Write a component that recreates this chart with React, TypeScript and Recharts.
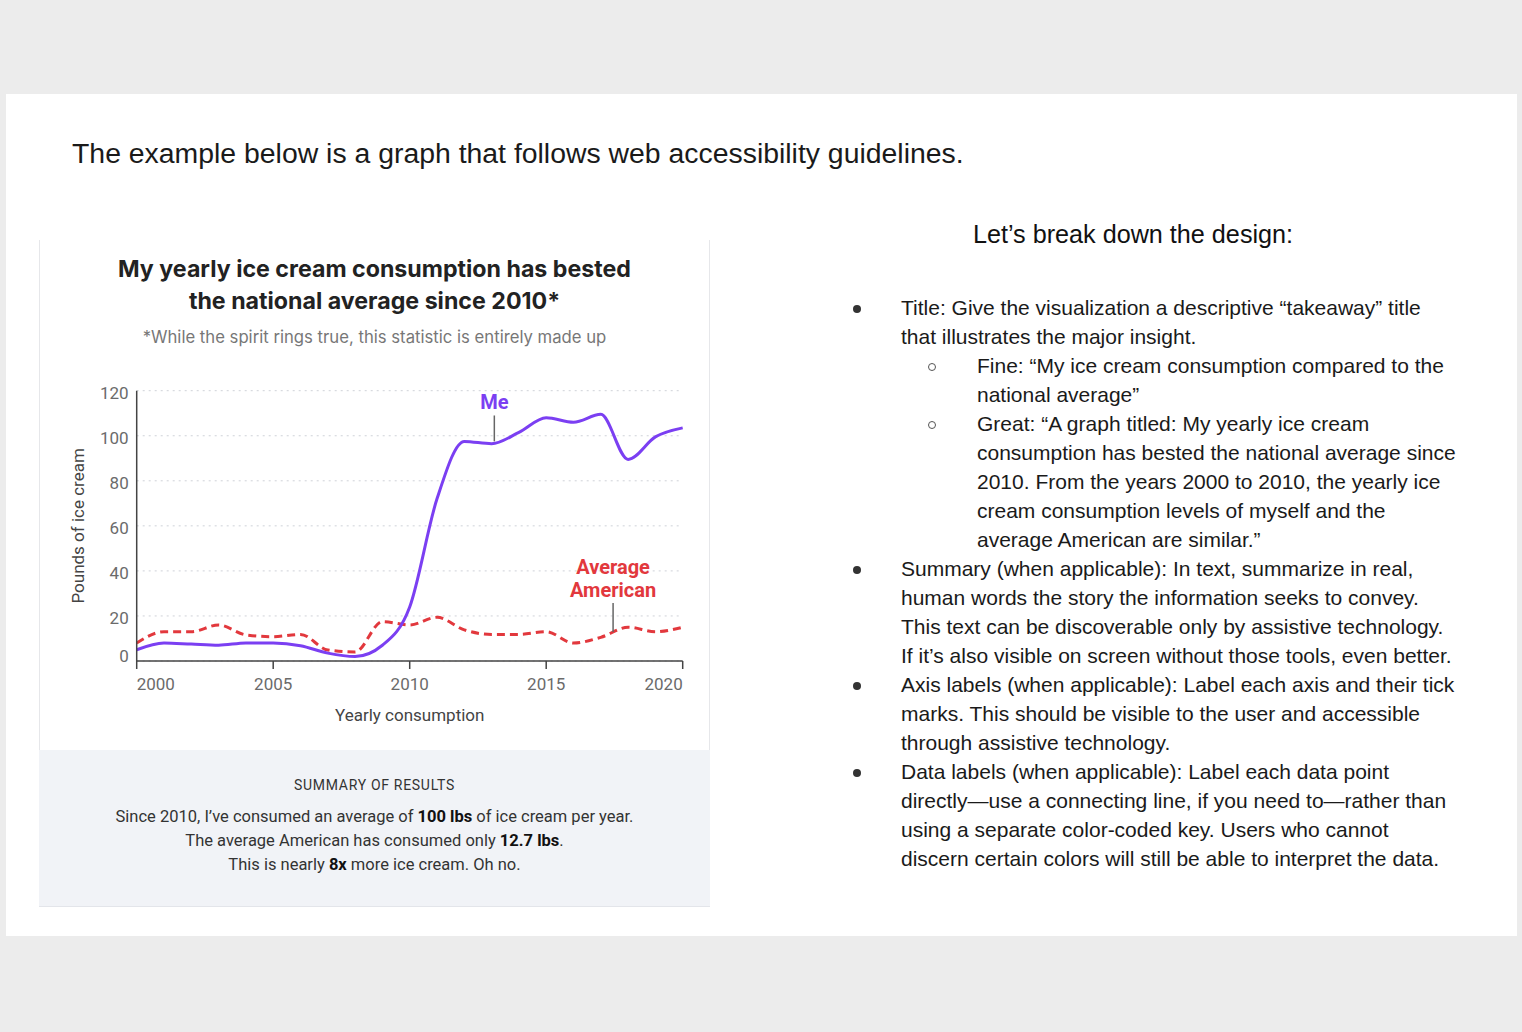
import { LineChart, Line, XAxis, YAxis, CartesianGrid, ReferenceLine, ReferenceDot } from "recharts";

const years = [2000, 2001, 2002, 2003, 2004, 2005, 2006, 2007, 2008, 2009, 2010, 2011, 2012, 2013, 2014, 2015, 2016, 2017, 2018, 2019, 2020];
const meValues = [5, 8, 7.5, 7, 8, 8, 6.8, 3.5, 2, 7, 24, 72, 97.5, 96.5, 101.5, 108, 106, 109.5, 89.5, 99.5, 103.5];
const avgValues = [8, 13, 13, 16, 11.6, 10.8, 11.8, 4.9, 4, 17.5, 16, 19.4, 13.8, 11.8, 11.8, 13, 8, 10.5, 15, 13, 15];
const xTicks = [2000, 2005, 2010, 2015, 2020];
const yTicks = [0, 20, 40, 60, 80, 100, 120];

const data = years.map((year, i) => ({ year, me: meValues[i], avg: avgValues[i] }));

const PURPLE = "#7b3ff2";
const RED = "#e2383d";
const CHART_FONT = "Roboto, 'Noto Sans', sans-serif";
const TITLE_FONT = "Inter, Roboto, sans-serif";
const DOC_FONT = "'Liberation Sans', Arial, sans-serif";

const XTick = (props: any) => {
  const { x, y, payload, index } = props;
  const anchor = index === 0 ? "start" : index === xTicks.length - 1 ? "end" : "middle";
  return (
    <text x={x} y={y + 19} textAnchor={anchor} fill="#6b6b6b" fontSize={17} fontFamily={CHART_FONT}>
      {payload.value}
    </text>
  );
};

const YTick = (props: any) => {
  const { x, y, payload } = props;
  const dy = payload.value === 0 ? -5 : 2;
  return (
    <text x={x} y={y + dy} dy={6} textAnchor="end" fill="#6b6b6b" fontSize={17} fontFamily={CHART_FONT}>
      {payload.value}
    </text>
  );
};

// annotation text stacked above a zero-radius reference dot
const Anno = ({ lines, color }: { lines: string[]; color: string }) => (props: any) => {
  const { viewBox } = props;
  const n = lines.length;
  return (
    <text x={viewBox.x} textAnchor="middle" fill={color} fontSize={20} fontWeight={700} fontFamily={CHART_FONT}>
      {lines.map((l, i) => (
        <tspan key={i} x={viewBox.x} y={viewBox.y - 6 - (n - 1 - i) * 23}>
          {l}
        </tspan>
      ))}
    </text>
  );
};

const bullets = [
  { lvl: 0, dot: true, text: "Title: Give the visualization a descriptive \u201ctakeaway\u201d title" },
  { lvl: 0, dot: false, text: "that illustrates the major insight." },
  { lvl: 1, dot: true, text: "Fine: \u201cMy ice cream consumption compared to the" },
  { lvl: 1, dot: false, text: "national average\u201d" },
  { lvl: 1, dot: true, text: "Great: \u201cA graph titled: My yearly ice cream" },
  { lvl: 1, dot: false, text: "consumption has bested the national average since" },
  { lvl: 1, dot: false, text: "2010. From the years 2000 to 2010, the yearly ice" },
  { lvl: 1, dot: false, text: "cream consumption levels of myself and the" },
  { lvl: 1, dot: false, text: "average American are similar.\u201d" },
  { lvl: 0, dot: true, text: "Summary (when applicable): In text, summarize in real," },
  { lvl: 0, dot: false, text: "human words the story the information seeks to convey." },
  { lvl: 0, dot: false, text: "This text can be discoverable only by assistive technology." },
  { lvl: 0, dot: false, text: "If it\u2019s also visible on screen without those tools, even better." },
  { lvl: 0, dot: true, text: "Axis labels (when applicable): Label each axis and their tick" },
  { lvl: 0, dot: false, text: "marks. This should be visible to the user and accessible" },
  { lvl: 0, dot: false, text: "through assistive technology." },
  { lvl: 0, dot: true, text: "Data labels (when applicable): Label each data point" },
  { lvl: 0, dot: false, text: "directly\u2014use a connecting line, if you need to\u2014rather than" },
  { lvl: 0, dot: false, text: "using a separate color-coded key. Users who cannot" },
  { lvl: 0, dot: false, text: "discern certain colors will still be able to interpret the data." },
];

export default function App() {
  return (
    <div style={{ position: "absolute", left: 0, top: 0, width: 1522, height: 1032, background: "#ececec", overflow: "hidden" }}>
      <div style={{ position: "absolute", left: 6, top: 94, width: 1511, height: 842, background: "#fff" }} />

      <div style={{ position: "absolute", left: 72, top: 137, fontFamily: DOC_FONT, fontSize: 28.4, color: "#1a1a1a", whiteSpace: "nowrap" }}>
        The example below is a graph that follows web accessibility guidelines.
      </div>

      {/* chart card */}
      <div style={{ position: "absolute", left: 39, top: 240, width: 671, height: 667, border: "1px solid #e6e7ea", borderTop: "none", background: "#fff", boxSizing: "border-box" }} />
      <div style={{ position: "absolute", left: 39, top: 750, width: 671, height: 157, background: "#f1f3f7", borderBottom: "1px solid #e3e5ea", boxSizing: "border-box" }} />

      <div style={{ position: "absolute", left: 39, width: 671, top: 253, textAlign: "center", fontFamily: TITLE_FONT, fontWeight: 700, fontSize: 23.2, lineHeight: "32px", color: "#222" }}>
        My yearly ice cream consumption has bested
        <br />
        the national average since 2010*
      </div>
      <div style={{ position: "absolute", left: 39, width: 671, top: 327, textAlign: "center", fontFamily: TITLE_FONT, fontSize: 16.7, color: "#777" }}>
        *While the spirit rings true, this statistic is entirely made up
      </div>

      <div style={{ position: "absolute", left: 60, top: 370 }}>
        <LineChart width={640} height={360} data={data} margin={{ top: 20.7, right: 17.3, left: 0, bottom: 9 }}>
          <CartesianGrid horizontal vertical={false} stroke="#cfd2d8" strokeDasharray="2 4" />
          <XAxis
            dataKey="year"
            type="number"
            domain={[2000, 2020]}
            ticks={xTicks}
            height={60}
            tick={<XTick />}
            tickSize={8}
            axisLine={{ stroke: "#444", strokeWidth: 1.5 }}
            tickLine={{ stroke: "#444", strokeWidth: 1.5 }}
            label={{ value: "Yearly consumption", position: "insideBottom", offset: 0, fill: "#444", fontSize: 17, fontFamily: CHART_FONT }}
          />
          <YAxis
            type="number"
            domain={[0, 120]}
            ticks={yTicks}
            width={76.7}
            tickLine={false}
            tick={<YTick />}
            axisLine={{ stroke: "#444", strokeWidth: 1.5 }}
            label={{ value: "Pounds of ice cream", angle: -90, position: "insideLeft", offset: 18, fill: "#444", fontSize: 17, fontFamily: CHART_FONT, style: { textAnchor: "middle" } }}
          />
          <Line type="monotone" dataKey="avg" stroke={RED} strokeWidth={3} strokeDasharray="8 5" dot={false} isAnimationActive={false} />
          <Line type="monotone" dataKey="me" stroke={PURPLE} strokeWidth={3} dot={false} isAnimationActive={false} />
          <ReferenceLine segment={[{ x: 2013.1, y: 97.5 }, { x: 2013.1, y: 109 }]} stroke="#666" strokeWidth={1.5} ifOverflow="visible" />
          <ReferenceLine segment={[{ x: 2017.45, y: 12.9 }, { x: 2017.45, y: 25.8 }]} stroke="#666" strokeWidth={1.5} ifOverflow="visible" />
          <ReferenceDot x={2013.1} y={109} r={0} ifOverflow="visible" label={{ content: Anno({ lines: ["Me"], color: PURPLE }) }} />
          <ReferenceDot x={2017.45} y={25.8} r={0} ifOverflow="visible" label={{ content: Anno({ lines: ["Average", "American"], color: RED }) }} />
        </LineChart>
      </div>

      <div style={{ position: "absolute", left: 39, width: 671, top: 777, textAlign: "center", fontFamily: CHART_FONT, fontSize: 14, letterSpacing: 0.7, color: "#333" }}>
        SUMMARY OF RESULTS
      </div>
      <div style={{ position: "absolute", left: 39, width: 671, top: 805, textAlign: "center", fontFamily: CHART_FONT, fontSize: 16.5, lineHeight: "24px", color: "#333" }}>
        Since 2010, I&rsquo;ve consumed an average of <b style={{ color: "#111" }}>100 lbs</b> of ice cream per year.
        <br />
        The average American has consumed only <b style={{ color: "#111" }}>12.7 lbs</b>.
        <br />
        This is nearly <b style={{ color: "#111" }}>8x</b> more ice cream. Oh no.
      </div>

      {/* notes */}
      <div style={{ position: "absolute", left: 873, width: 520, top: 220, textAlign: "center", fontFamily: DOC_FONT, fontSize: 25.2, color: "#111" }}>
        Let&rsquo;s break down the design:
      </div>
      {bullets.map((b, i) => {
        const top = 295 + i * 29;
        const textLeft = b.lvl === 0 ? 901 : 977;
        return (
          <div key={i}>
            {b.dot && (
              <div
                style={{
                  position: "absolute",
                  left: b.lvl === 0 ? 853 : 928,
                  top: top + 10,
                  width: 8,
                  height: 8,
                  borderRadius: 4,
                  boxSizing: "border-box",
                  background: b.lvl === 0 ? "#333" : "transparent",
                  border: b.lvl === 0 ? "none" : "1px solid #555",
                }}
              />
            )}
            <div style={{ position: "absolute", left: textLeft, top, fontFamily: DOC_FONT, fontSize: 21, lineHeight: "26px", color: "#1a1a1a", whiteSpace: "nowrap" }}>
              {b.text}
            </div>
          </div>
        );
      })}
    </div>
  );
}
